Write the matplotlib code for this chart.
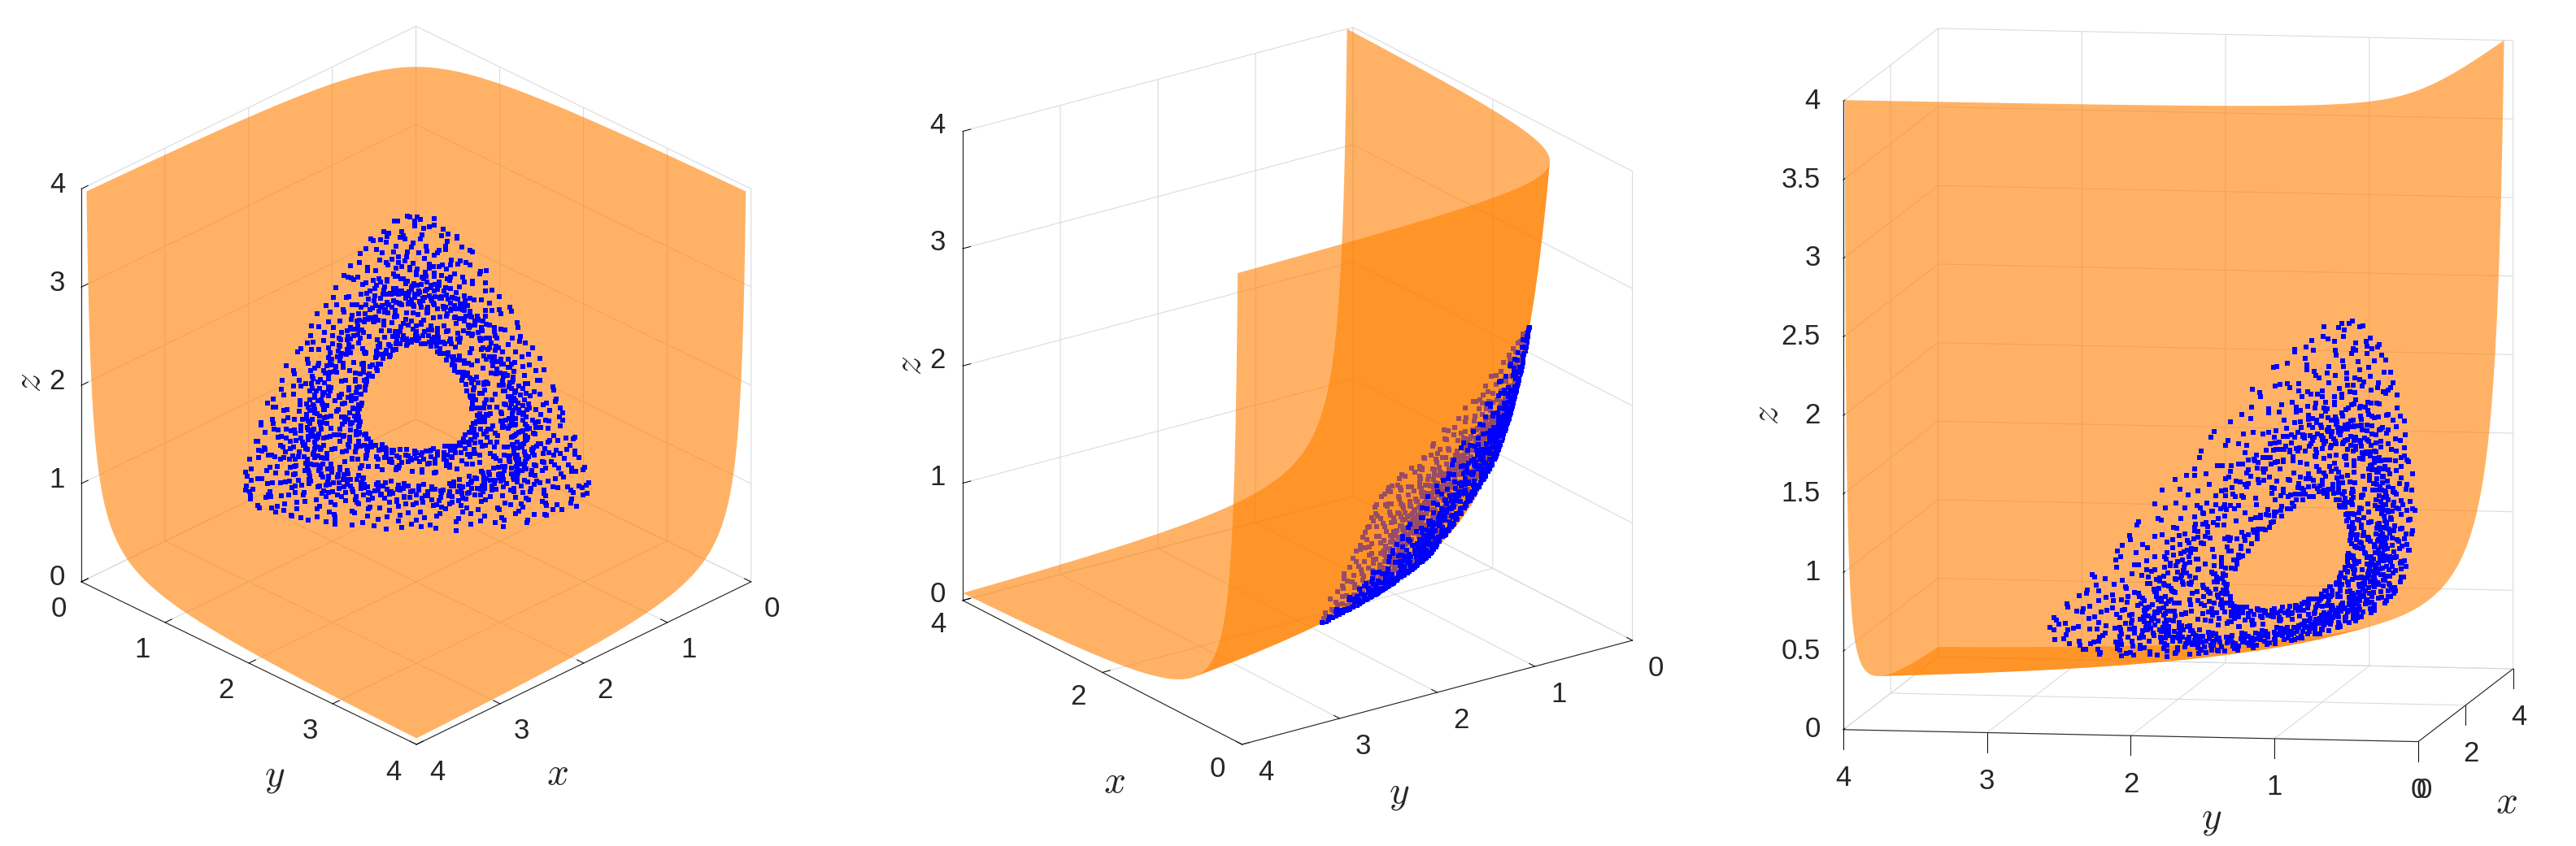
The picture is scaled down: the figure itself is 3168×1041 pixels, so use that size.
import numpy as np
import matplotlib
matplotlib.use('Agg')
import matplotlib.pyplot as plt
from matplotlib.path import Path
from matplotlib.patches import PathPatch
from mpl_toolkits.mplot3d import proj3d

plt.rcParams['font.family'] = ['Liberation Sans', 'DejaVu Sans']
plt.rcParams['mathtext.fontset'] = 'cm'

# surface nodes along x and y, and the z levels of the sheet read from top edge down
surface_nodes = [0.0625, 0.0682, 0.0743, 0.0811, 0.0884, 0.0964, 0.1051, 0.1146,
                 0.125, 0.1363, 0.1487, 0.1621, 0.1768, 0.1928, 0.2102, 0.2293,
                 0.25, 0.2726, 0.2973, 0.3242, 0.3536, 0.3856, 0.4204, 0.4585,
                 0.5, 0.5453, 0.5946, 0.6484, 0.7071, 0.7711, 0.8409, 0.917,
                 1.0, 1.0905, 1.1892, 1.2968, 1.4142, 1.5422, 1.6818, 1.834,
                 2.0, 2.181, 2.378, 2.594, 2.828, 3.084, 3.364, 3.668, 4.0]
surface_levels = surface_nodes[::-1]

# cloud points: angle (deg) and radius around (1, 1, 1) on the sheet
cloud_theta = [
    3,7,1,9,5,2,8,0,6,4,7,2,9,1,5,3,8,6,0,4,2,7,5,9,
    16,11,18,13,10,15,19,12,17,14,11,16,13,18,10,15,19,14,12,17,13,18,11,16,
    22,29,24,27,21,26,20,28,23,25,29,22,26,20,24,27,21,28,25,23,26,21,29,24,
    38,34,30,35,32,37,33,39,31,36,34,30,38,35,32,36,39,33,37,31,35,30,33,38,
    43,47,41,49,45,42,48,40,46,44,47,42,49,41,45,43,48,46,40,44,42,47,45,49,
    56,51,58,53,50,55,59,52,57,54,51,56,53,58,50,55,59,54,52,57,53,58,51,56,
    62,69,64,67,61,66,60,68,63,65,69,62,66,60,64,67,61,68,65,63,66,61,69,64,
    78,74,70,75,72,77,73,79,71,76,74,70,78,75,72,76,79,73,77,71,75,70,73,78,
    83,87,81,89,85,82,88,80,86,84,87,82,89,81,85,83,88,86,80,84,82,87,85,89,
    96,91,98,93,90,95,99,92,97,94,91,96,93,98,90,95,99,94,92,97,93,98,91,96,
    102,109,104,107,101,106,100,108,103,105,109,102,106,100,104,107,101,108,105,103,106,101,109,104,
    118,114,110,115,112,117,113,119,111,116,114,110,118,115,112,116,119,113,117,111,115,110,113,118,
    123,127,121,129,125,122,128,120,126,124,127,122,129,121,125,123,128,126,120,124,122,127,125,129,
    136,131,138,133,130,135,139,132,137,134,131,136,133,138,130,135,139,134,132,137,133,138,131,136,
    142,149,144,147,141,146,140,148,143,145,149,142,146,140,144,147,141,148,145,143,146,141,149,144,
    158,154,150,155,152,157,153,159,151,156,154,150,158,155,152,156,159,153,157,151,155,150,153,158,
    163,167,161,169,165,162,168,160,166,164,167,162,169,161,165,163,168,166,160,164,162,167,165,169,
    176,171,178,173,170,175,179,172,177,174,171,176,173,178,170,175,179,174,172,177,173,178,171,176,
    182,189,184,187,181,186,180,188,183,185,189,182,186,180,184,187,181,188,185,183,186,181,189,184,
    198,194,190,195,192,197,193,199,191,196,194,190,198,195,192,196,199,193,197,191,195,190,193,198,
    203,207,201,209,205,202,208,200,206,204,207,202,209,201,205,203,208,206,200,204,202,207,205,209,
    216,211,218,213,210,215,219,212,217,214,211,216,213,218,210,215,219,214,212,217,213,218,211,216,
    222,229,224,227,221,226,220,228,223,225,229,222,226,220,224,227,221,228,225,223,226,221,229,224,
    238,234,230,235,232,237,233,239,231,236,234,230,238,235,232,236,239,233,237,231,235,230,233,238,
    243,247,241,249,245,242,248,240,246,244,247,242,249,241,245,243,248,246,240,244,242,247,245,249,
    256,251,258,253,250,255,259,252,257,254,251,256,253,258,250,255,259,254,252,257,253,258,251,256,
    262,269,264,267,261,266,260,268,263,265,269,262,266,260,264,267,261,268,265,263,266,261,269,264,
    278,274,270,275,272,277,273,279,271,276,274,270,278,275,272,276,279,273,277,271,275,270,273,278,
    283,287,281,289,285,282,288,280,286,284,287,282,289,281,285,283,288,286,280,284,282,287,285,289,
    296,291,298,293,290,295,299,292,297,294,291,296,293,298,290,295,299,294,292,297,293,298,291,296,
    302,309,304,307,301,306,300,308,303,305,309,302,306,300,304,307,301,308,305,303,306,301,309,304,
    318,314,310,315,312,317,313,319,311,316,314,310,318,315,312,316,319,313,317,311,315,310,313,318,
    323,327,321,329,325,322,328,320,326,324,327,322,329,321,325,323,328,326,320,324,322,327,325,329,
    336,331,338,333,330,335,339,332,337,334,331,336,333,338,330,335,339,334,332,337,333,338,331,336,
    342,349,344,347,341,346,340,348,343,345,349,342,346,340,344,347,341,348,345,343,346,341,349,344,
    358,354,350,355,352,357,353,359,351,356,354,350,358,355,352,356,359,353,357,351,355,350,353,358,
]
cloud_r = [
    .47,.51,.56,.49,.58,.61,.65,.69,.74,.77,.80,.83,.85,.88,.91,.79,.86,.93,.96,1.00,1.04,1.09,1.14,1.19,
    .46,.50,.54,.59,.48,.62,.64,.70,.77,.80,.83,.85,.87,.90,.93,.96,.82,.89,.99,1.03,1.08,1.13,1.18,1.23,
    .48,.53,.57,.47,.60,.55,.67,.71,.80,.83,.86,.88,.90,.93,.95,.98,.85,.92,1.02,1.07,1.12,1.17,1.22,1.27,
    .46,.49,.55,.61,.52,.58,.63,.68,.79,.82,.85,.87,.90,.92,.96,.99,.84,.94,1.01,1.06,1.11,1.18,1.24,1.28,
    .47,.52,.56,.60,.50,.54,.66,.72,.78,.81,.84,.87,.89,.91,.94,.97,.83,.90,1.00,1.05,1.10,1.15,1.21,1.26,
    .48,.50,.55,.59,.46,.62,.65,.70,.77,.80,.82,.85,.88,.90,.92,.96,.84,.87,.99,1.03,1.08,1.14,1.19,1.24,
    .46,.51,.53,.58,.49,.56,.64,.69,.75,.78,.81,.83,.85,.88,.91,.94,.80,.86,.97,1.01,1.06,1.11,1.17,1.21,
    .47,.49,.54,.60,.52,.57,.66,.71,.73,.76,.79,.81,.83,.86,.89,.92,.78,.84,.95,.99,1.03,1.08,1.13,1.18,
    .46,.50,.55,.51,.59,.62,.65,.69,.72,.75,.78,.80,.82,.85,.87,.90,.77,.83,.93,.97,1.01,1.06,1.11,1.16,
    .47,.52,.48,.56,.58,.61,.67,.70,.72,.74,.77,.79,.82,.84,.88,.91,.76,.81,.94,.98,1.02,1.07,1.12,1.17,
    .46,.49,.53,.57,.50,.60,.63,.68,.73,.75,.78,.81,.84,.87,.90,.93,.79,.82,.95,1.00,1.04,1.09,1.14,1.18,
    .48,.51,.55,.47,.59,.62,.66,.71,.75,.77,.80,.83,.86,.89,.92,.95,.81,.85,.98,1.02,1.07,1.12,1.16,1.22,
    .46,.50,.54,.58,.52,.61,.64,.69,.77,.79,.82,.85,.88,.91,.94,.97,.83,.87,1.00,1.04,1.09,1.13,1.19,1.25,
    .47,.53,.49,.56,.60,.55,.65,.72,.78,.81,.84,.86,.89,.92,.95,.98,.85,.90,1.01,1.06,1.10,1.16,1.21,1.26,
    .46,.51,.54,.59,.48,.62,.67,.70,.80,.83,.85,.88,.91,.93,.96,.99,.86,.90,1.03,1.07,1.12,1.18,1.23,1.29,
    .48,.50,.56,.52,.58,.60,.63,.68,.79,.82,.84,.87,.90,.92,.95,1.00,.85,.91,1.02,1.08,1.13,1.17,1.24,1.28,
    .47,.49,.53,.57,.61,.55,.66,.71,.77,.80,.83,.86,.88,.91,.94,.97,.82,.89,1.00,1.05,1.09,1.15,1.20,1.25,
    .46,.52,.48,.55,.59,.62,.64,.69,.75,.78,.81,.83,.86,.88,.91,.95,.80,.85,.97,1.02,1.06,1.11,1.16,1.21,
    .47,.50,.54,.58,.51,.60,.65,.70,.73,.76,.79,.82,.84,.87,.89,.92,.77,.83,.95,.99,1.03,1.08,1.13,1.17,
    .46,.49,.55,.52,.57,.61,.67,.72,.74,.76,.79,.81,.84,.86,.90,.93,.78,.82,.96,1.00,1.04,1.09,1.12,1.18,
    .48,.51,.47,.56,.59,.62,.63,.68,.75,.77,.80,.83,.85,.88,.91,.94,.81,.86,.97,1.01,1.05,1.10,1.15,1.19,
    .46,.50,.53,.58,.49,.60,.66,.70,.76,.78,.81,.84,.86,.89,.92,.95,.80,.87,.98,1.02,1.07,1.11,1.16,1.20,
    .47,.52,.55,.48,.57,.61,.64,.71,.77,.79,.82,.85,.87,.90,.93,.96,.83,.88,.99,1.03,1.08,1.13,1.18,1.22,
    .46,.49,.54,.59,.51,.62,.65,.69,.78,.81,.84,.86,.89,.92,.95,.98,.85,.90,1.01,1.05,1.10,1.15,1.20,1.24,
    .48,.53,.50,.56,.60,.58,.67,.72,.80,.83,.86,.89,.91,.94,.97,1.00,.87,.93,1.03,1.08,1.13,1.18,1.23,1.28,
    .47,.51,.55,.58,.49,.61,.66,.70,.83,.86,.89,.92,.95,.97,1.00,1.03,.90,.96,1.06,1.11,1.16,1.21,1.27,1.32,
    .46,.50,.53,.57,.60,.55,.64,.69,.85,.89,.92,.95,.98,1.01,1.04,1.07,.93,.99,1.10,1.15,1.20,1.25,1.31,1.37,
    .48,.52,.49,.56,.59,.62,.68,.72,.86,.90,.93,.96,.99,1.02,1.05,1.08,.92,.97,1.11,1.16,1.21,1.26,1.32,1.38,
    .47,.50,.54,.58,.46,.61,.65,.71,.83,.87,.90,.93,.95,.98,1.01,1.04,.89,.96,1.07,1.12,1.17,1.22,1.27,1.33,
    .46,.53,.51,.55,.60,.57,.63,.70,.81,.84,.87,.90,.92,.95,.98,1.01,.86,.93,1.04,1.09,1.13,1.18,1.24,1.29,
    .48,.50,.56,.59,.52,.62,.67,.69,.78,.81,.83,.86,.89,.91,.94,.97,.84,.88,1.00,1.05,1.09,1.14,1.20,1.24,
    .47,.49,.54,.58,.61,.51,.64,.72,.77,.79,.82,.85,.87,.90,.93,.96,.83,.89,.99,1.03,1.07,1.12,1.17,1.22,
    .46,.52,.55,.48,.57,.60,.66,.70,.76,.78,.81,.84,.86,.88,.92,.95,.80,.85,.98,1.02,1.06,1.11,1.15,1.20,
    .47,.50,.53,.59,.62,.56,.65,.71,.75,.77,.80,.83,.85,.88,.91,.94,.81,.86,.97,1.01,1.05,1.10,1.15,1.19,
    .48,.51,.49,.55,.58,.61,.63,.68,.74,.76,.79,.82,.84,.87,.90,.93,.78,.83,.95,1.00,1.04,1.08,1.13,1.17,
    .46,.52,.54,.57,.50,.60,.67,.69,.73,.76,.78,.81,.84,.86,.89,.92,.77,.85,.96,.99,1.03,1.09,1.12,1.18,
]
# second pass over the same ring, mostly the dense band and the outer fringe
cloud_theta2 = [
    5,0,8,3,6,1,9,4,2,7,0,5,3,8,6,2,9,1,4,7,
    11,16,13,19,14,17,10,15,18,12,16,11,19,13,17,14,10,18,12,15,
    29,22,25,20,27,23,28,21,26,24,22,29,25,20,28,23,26,21,27,24,
    35,30,38,33,36,31,39,34,32,37,30,35,33,38,36,32,39,31,34,37,
    41,46,43,49,44,47,40,45,48,42,46,41,49,43,47,44,40,48,42,45,
    59,52,55,50,57,53,58,51,56,54,52,59,55,50,58,53,56,51,57,54,
    65,60,68,63,66,61,69,64,62,67,60,65,63,68,66,62,69,61,64,67,
    71,76,73,79,74,77,70,75,78,72,76,71,79,73,77,74,70,78,72,75,
    89,82,85,80,87,83,88,81,86,84,82,89,85,80,88,83,86,81,87,84,
    95,90,98,93,96,91,99,94,92,97,90,95,93,98,96,92,99,91,94,97,
    101,106,103,109,104,107,100,105,108,102,106,101,109,103,107,104,100,108,102,105,
    119,112,115,110,117,113,118,111,116,114,112,119,115,110,118,113,116,111,117,114,
    125,120,128,123,126,121,129,124,122,127,120,125,123,128,126,122,129,121,124,127,
    131,136,133,139,134,137,130,135,138,132,136,131,139,133,137,134,130,138,132,135,
    149,142,145,140,147,143,148,141,146,144,142,149,145,140,148,143,146,141,147,144,
    155,150,158,153,156,151,159,154,152,157,150,155,153,158,156,152,159,151,154,157,
    161,166,163,169,164,167,160,165,168,162,166,161,169,163,167,164,160,168,162,165,
    179,172,175,170,177,173,178,171,176,174,172,179,175,170,178,173,176,171,177,174,
    185,180,188,183,186,181,189,184,182,187,180,185,183,188,186,182,189,181,184,187,
    191,196,193,199,194,197,190,195,198,192,196,191,199,193,197,194,190,198,192,195,
    209,202,205,200,207,203,208,201,206,204,202,209,205,200,208,203,206,201,207,204,
    215,210,218,213,216,211,219,214,212,217,210,215,213,218,216,212,219,211,214,217,
    221,226,223,229,224,227,220,225,228,222,226,221,229,223,227,224,220,228,222,225,
    239,232,235,230,237,233,238,231,236,234,232,239,235,230,238,233,236,231,237,234,
    245,240,248,243,246,241,249,244,242,247,240,245,243,248,246,242,249,241,244,247,
    251,256,253,259,254,257,250,255,258,252,256,251,259,253,257,254,250,258,252,255,
    269,262,265,260,267,263,268,261,266,264,262,269,265,260,268,263,266,261,267,264,
    275,270,278,273,276,271,279,274,272,277,270,275,273,278,276,272,279,271,274,277,
    281,286,283,289,284,287,280,285,288,282,286,281,289,283,287,284,280,288,282,285,
    299,292,295,290,297,293,298,291,296,294,292,299,295,290,298,293,296,291,297,294,
    305,300,308,303,306,301,309,304,302,307,300,305,303,308,306,302,309,301,304,307,
    311,316,313,319,314,317,310,315,318,312,316,311,319,313,317,314,310,318,312,315,
    329,322,325,320,327,323,328,321,326,324,322,329,325,320,328,323,326,321,327,324,
    335,330,338,333,336,331,339,334,332,337,330,335,333,338,336,332,339,331,334,337,
    341,346,343,349,344,347,340,345,348,342,346,341,349,343,347,344,340,348,342,345,
    359,352,355,350,357,353,358,351,356,354,352,359,355,350,358,353,356,351,357,354,
]
cloud_r2 = [
    .48,.53,.60,.67,.75,.78,.81,.84,.86,.89,.92,.82,.87,.94,.98,1.02,1.06,1.11,1.15,1.18,
    .47,.52,.57,.68,.78,.81,.84,.86,.88,.91,.94,.80,.92,.97,1.01,1.05,1.10,1.15,1.20,1.22,
    .49,.54,.61,.65,.81,.84,.87,.89,.91,.94,.97,.83,.99,1.04,1.09,1.14,1.19,1.24,1.26,.76,
    .47,.51,.59,.70,.80,.83,.86,.88,.91,.93,.97,1.00,.78,1.03,1.08,1.13,1.16,1.21,1.26,1.27,
    .48,.53,.58,.69,.79,.82,.85,.88,.90,.92,.95,.98,.76,1.02,1.07,1.12,1.17,1.19,1.24,.93,
    .46,.52,.60,.67,.78,.81,.83,.86,.89,.91,.93,.97,.75,1.01,1.05,1.10,1.16,1.21,1.23,.94,
    .49,.55,.61,.66,.76,.79,.82,.84,.87,.89,.92,.95,.73,.99,1.03,1.08,1.13,1.19,1.20,.77,
    .47,.53,.58,.68,.74,.77,.80,.82,.84,.87,.90,.93,.71,.97,1.01,1.05,1.10,1.15,1.17,.75,
    .48,.52,.60,.67,.73,.76,.79,.81,.83,.86,.88,.91,.70,.95,.99,1.03,1.08,1.13,1.15,.74,
    .49,.54,.59,.66,.73,.75,.78,.80,.83,.85,.89,.92,.71,.96,1.00,1.04,1.09,1.14,1.16,.77,
    .47,.51,.61,.69,.74,.76,.79,.82,.85,.88,.91,.94,.72,.97,1.01,1.06,1.11,1.15,1.17,.80,
    .48,.53,.57,.68,.76,.78,.81,.84,.87,.90,.93,.96,.74,1.00,1.04,1.09,1.14,1.18,1.20,.79,
    .46,.52,.60,.67,.78,.80,.83,.86,.89,.92,.95,.98,.75,1.02,1.06,1.11,1.15,1.21,1.23,.81,
    .49,.55,.58,.70,.79,.82,.85,.87,.90,.93,.96,.99,.77,1.03,1.08,1.12,1.18,1.23,1.25,.83,
    .47,.53,.61,.65,.81,.84,.86,.89,.92,.94,.97,1.00,.78,1.05,1.09,1.14,1.20,1.25,1.27,.82,
    .49,.51,.59,.69,.80,.83,.85,.88,.91,.93,.96,1.01,.77,1.04,1.10,1.15,1.19,1.22,1.26,.86,
    .48,.54,.62,.67,.78,.81,.84,.87,.89,.92,.95,.98,.76,1.02,1.07,1.11,1.17,1.22,1.24,.79,
    .46,.53,.60,.66,.76,.79,.82,.84,.87,.89,.92,.96,.74,.99,1.04,1.08,1.13,1.18,1.20,.78,
    .48,.52,.57,.68,.74,.77,.80,.83,.85,.88,.90,.93,.71,.97,1.01,1.05,1.10,1.14,1.16,.75,
    .47,.53,.59,.70,.75,.77,.80,.82,.85,.87,.91,.94,.72,.98,1.02,1.06,1.11,1.15,1.17,.76,
    .49,.54,.60,.65,.76,.78,.81,.84,.86,.89,.92,.95,.73,.99,1.03,1.07,1.12,1.17,1.18,.79,
    .47,.52,.61,.68,.77,.79,.82,.85,.87,.90,.93,.96,.74,1.00,1.04,1.09,1.13,1.18,1.19,.83,
    .48,.53,.58,.66,.78,.80,.83,.86,.88,.91,.94,.97,.76,1.01,1.05,1.10,1.15,1.20,1.21,.81,
    .47,.55,.60,.67,.79,.82,.85,.87,.90,.93,.96,.99,.77,1.03,1.07,1.12,1.17,1.22,1.23,.83,
    .49,.52,.57,.69,.81,.84,.87,.90,.92,.95,.98,1.01,.79,1.05,1.10,1.15,1.20,1.25,1.27,.85,
    .48,.54,.60,.68,.84,.87,.90,.93,.96,.98,1.01,1.04,.81,1.08,1.13,1.18,1.23,1.29,1.31,.88,
    .47,.52,.59,.66,.86,.90,.93,.96,.99,1.02,1.05,1.08,.83,1.12,1.17,1.22,1.27,1.33,1.35,.91,
    .49,.55,.61,.70,.87,.91,.94,.97,1.00,1.03,1.06,1.09,.84,1.13,1.18,1.23,1.28,1.34,1.36,.90,
    .48,.53,.57,.67,.84,.88,.91,.94,.96,.99,1.02,1.05,.81,1.09,1.14,1.19,1.24,1.29,1.31,.87,
    .47,.52,.58,.65,.82,.85,.88,.91,.93,.96,.99,1.02,.79,1.06,1.11,1.15,1.20,1.26,1.27,.84,
    .49,.54,.60,.68,.79,.82,.84,.87,.90,.92,.95,.98,.77,1.02,1.07,1.11,1.16,1.22,1.23,.86,
    .48,.53,.59,.70,.78,.80,.83,.86,.88,.91,.94,.97,.75,1.01,1.05,1.09,1.14,1.19,1.21,.81,
    .47,.51,.61,.67,.77,.79,.82,.85,.87,.89,.93,.96,.74,1.00,1.04,1.08,1.13,1.17,1.19,.83,
    .49,.52,.57,.66,.76,.78,.81,.84,.86,.89,.92,.95,.73,.99,1.03,1.07,1.12,1.17,1.18,.79,
    .47,.53,.60,.69,.75,.77,.80,.83,.85,.88,.91,.94,.72,.97,1.02,1.06,1.10,1.15,1.16,.76,
    .49,.55,.58,.68,.74,.77,.79,.82,.85,.87,.90,.93,.71,.98,1.01,1.05,1.11,1.14,1.16,.75,
]

x_ticks = [[0, 1, 2, 3, 4], [0, 2, 4], [0, 2, 4]]
y_ticks = [[0, 1, 2, 3, 4], [0, 1, 2, 3, 4], [0, 1, 2, 3, 4]]
z_ticks = [[0, 1, 2, 3, 4], [0, 1, 2, 3, 4], [0, 0.5, 1, 1.5, 2, 2.5, 3, 3.5, 4]]

W, H = 3168, 1041
ORANGE = '#ff8000'
BLUE = '#0000ff'
GRID = (0.86, 0.86, 0.86, 1)
INK = '#262626'

# screen position of the corner x=y=z=0 and of the three box edges (px, y up)
# *_base says on which box edge the axis sits (multiples of ex, ey)
# *_off is the offset of a tick label from its tick foot (px, y down)
panels = [
    dict(o=(511.5, 515.8), ex=(-411.5, -200.1), ey=(412.2, -200.1), ez=(0, 483.5),
         x_base=(0, 1), y_base=(1, 0), z_base=(1, 0),
         x_off=(26, 34), y_off=(-28, 34), z_off=(-20, -5), out=(0.25, 0.25, 0.25),
         labels=[(685, 953), (338, 956), (37, 471)]),
    dict(o=(2007.6, 788.0), ex=(-343.5, 177.2), ey=(-480.1, -128.0), ez=(0, 577.2),
         x_base=(0, 1), y_base=(0, 0), z_base=(1, 1),
         x_off=(-30, 30), y_off=(29, 34), z_off=(-21, -7), out=(0.25, 0.25, 0.25),
         labels=[(1370.5, 963), (1721, 977), (1120, 450)]),
    dict(o=(2974.0, 912.6), ex=(116.6, 89.6), ey=(-707.1, 14.8), ez=(0, 773.2),
         x_base=(0, 0), y_base=(0, 0), z_base=(0, 1),
         x_off=(7, 60), y_off=(0, 60), z_off=(-28, 0), out=(0.39, 0.39, 0.22),
         labels=[(3082, 988), (2720, 1008), (2174, 510.5)]),
]


def fit_view(ex, ey, ez):
    t1 = ex[1] / ex[0]
    t2 = ey[1] / ey[0]
    m = np.sqrt(-t2 / t1)
    az = np.arctan2(-np.sign(ex[0]) * m, np.sign(ey[0]))
    el = np.arcsin(t1 * np.tan(az))
    lengths = (-ex[0] / np.sin(az), ey[0] / np.cos(az), ez[1] / np.cos(el))
    return np.degrees(el), np.degrees(az), np.array(lengths)


# build the mesh
n = len(surface_nodes)
index = -np.ones((n, n), dtype=int)
xs, ys, zs = [], [], []
for i in range(n):
    for j in range(n):
        k = i + j - (n - 1)
        if k >= 0:
            index[i, j] = len(xs)
            xs.append(surface_nodes[i])
            ys.append(surface_nodes[j])
            zs.append(surface_levels[k])
tris = []
for i in range(n - 1):
    for j in range(n - 1):
        a, b, c, d = index[i, j], index[i + 1, j], index[i + 1, j + 1], index[i, j + 1]
        if b >= 0 and d >= 0:
            tris.append([b, c, d])
            if a >= 0:
                tris.append([a, b, d])
xs, ys, zs, tris = np.array(xs), np.array(ys), np.array(zs), np.array(tris)

# cloud points on the sheet
th = np.radians(cloud_theta + cloud_theta2)
r = np.array(cloud_r + cloud_r2)
u, v = r * np.cos(th), r * np.sin(th)
cloud_x = np.exp(-u / np.sqrt(2) - v / np.sqrt(6))
cloud_y = np.exp(u / np.sqrt(2) - v / np.sqrt(6))
cloud_z = np.exp(2 * v / np.sqrt(6))


def facing(cam, x, y, z):
    return cam[0] * y * z + cam[1] * x * z + cam[2] * x * y


def add_sheet(ax, px, py, tri, zorder):
    # one compound path per sheet, so the triangles do not show seams under alpha
    if len(tri) == 0:
        return
    verts = np.zeros((len(tri) * 4, 2))
    verts[0::4, 0], verts[0::4, 1] = px[tri[:, 0]], py[tri[:, 0]]
    verts[1::4, 0], verts[1::4, 1] = px[tri[:, 1]], py[tri[:, 1]]
    verts[2::4, 0], verts[2::4, 1] = px[tri[:, 2]], py[tri[:, 2]]
    verts[3::4] = verts[0::4]
    codes = np.tile([Path.MOVETO, Path.LINETO, Path.LINETO, Path.CLOSEPOLY], len(tri))
    path = Path(verts, codes)
    path.should_simplify = False
    sheet = PathPatch(path, facecolor=ORANGE, edgecolor='none', alpha=0.6, linewidth=0,
                      transform=ax.transData, zorder=zorder)
    sheet.do_3d_projection = lambda: 0
    ax.add_artist(sheet)
    sheet.set_clip_on(False)


fig = plt.figure(figsize=(W / 100, H / 100), dpi=100)
side = 1000

for p, panel in enumerate(panels):
    ax = fig.add_axes([0, 0, side / W, side / H], projection='3d', computed_zorder=False)
    ax.patch.set_visible(False)
    el, az, lengths = fit_view(panel['ex'], panel['ey'], panel['ez'])
    ax.set_proj_type('ortho')
    ax.view_init(elev=el, azim=az)
    ax.set_xlim(0, 4, view_margin=0)
    ax.set_ylim(0, 4, view_margin=0)
    ax.set_zlim(0, 4, view_margin=0)

    lim = matplotlib.axes.Axes.get_xlim(ax)
    per_unit = side / (lim[1] - lim[0]) / 10
    frac = -lim[0] / (lim[1] - lim[0])
    L = lengths / per_unit
    ax.set_box_aspect(L, zoom=np.linalg.norm(L) / (1.8294640721620434 * 25 / 24))
    ex, ey, ez = np.array(panel['ex']), np.array(panel['ey']), np.array(panel['ez'])
    o = np.array([panel['o'][0], H - panel['o'][1]])
    c = o + (ex + ey + ez) / 2
    ax.set_position([(c[0] - frac * side) / W, (c[1] - frac * side) / H, side / W, side / H])

    ax.set_xticks(x_ticks[p])
    ax.set_yticks(y_ticks[p])
    ax.set_zticks(z_ticks[p])
    ax.set_xticklabels([])
    ax.set_yticklabels([])
    ax.set_zticklabels([])
    if p == 1:
        ax.zaxis.set_ticks_position('upper')
    for axis, out in zip((ax.xaxis, ax.yaxis, ax.zaxis), panel['out']):
        axis.set_pane_color((1, 1, 1, 0))
        axis.pane.set_edgecolor(GRID)
        axis.pane.set_linewidth(0.8)
        axis._axinfo['grid'].update(color=GRID, linewidth=0.8)
        axis._axinfo['tick'].update(inward_factor=0.0, outward_factor=out)
        axis._axinfo['tick']['linewidth'] = {True: 0.7, False: 0.7}
        axis._axinfo['tick']['color'] = INK
        axis.line.set_linewidth(0.8)
        axis.line.set_color(INK)
    if p == 2:
        ax.xaxis._get_tickdir = lambda pos: 2
        ax.yaxis._get_tickdir = lambda pos: 2

    # split the sheet in its two sides as seen from this camera
    px, py, _ = proj3d.proj_transform(xs, ys, zs, ax.get_proj())
    area = ((px[tris[:, 1]] - px[tris[:, 0]]) * (py[tris[:, 2]] - py[tris[:, 0]])
            - (px[tris[:, 2]] - px[tris[:, 0]]) * (py[tris[:, 1]] - py[tris[:, 0]]))
    pos = tris[area > 0]
    neg = tris[area <= 0][:, ::-1]
    cam = (np.cos(np.radians(el)) * np.cos(np.radians(az)),
           np.cos(np.radians(el)) * np.sin(np.radians(az)), np.sin(np.radians(el)))
    pos_is_back = len(pos) and facing(cam, xs[pos].mean(axis=1), ys[pos].mean(axis=1),
                                      zs[pos].mean(axis=1)).mean() > 0
    add_sheet(ax, px, py, pos if pos_is_back else neg, 1)
    add_sheet(ax, px, py, neg if pos_is_back else pos, 3)

    g = facing(cam, cloud_x, cloud_y, cloud_z)
    behind = (g > 0) if min(cam) < 0 else np.zeros_like(g, dtype=bool)
    ax.scatter(cloud_x[behind], cloud_y[behind], cloud_z[behind], s=15, c=BLUE, marker='s',
               linewidths=0, depthshade=False, zorder=2)
    ax.scatter(cloud_x[~behind], cloud_y[~behind], cloud_z[~behind], s=15, c=BLUE, marker='s',
               linewidths=0, depthshade=False, zorder=4)

    # tick labels, placed from the tick foot on the box edge
    for ticks, vec, base, off, ha in [
        (x_ticks[p], ex, panel['x_base'], panel['x_off'], 'center'),
        (y_ticks[p], ey, panel['y_base'], panel['y_off'], 'center'),
        (z_ticks[p], ez, panel['z_base'], panel['z_off'], 'right'),
    ]:
        start = o + base[0] * ex + base[1] * ey
        for t in ticks:
            pt = start + vec * t / 4
            fig.text((pt[0] + off[0]) / W, (pt[1] - off[1]) / H, f'{t:g}', fontsize=25,
                     color=INK, ha=ha, va='center')

    for (lx, ly), name, rot in zip(panel['labels'], 'xyz', (0, 0, 90)):
        fig.text(lx / W, 1 - ly / H, f'${name}$', fontsize=34, color=INK, ha='center', va='center',
                 rotation=rot)

fig.savefig('out.png', dpi=100)
